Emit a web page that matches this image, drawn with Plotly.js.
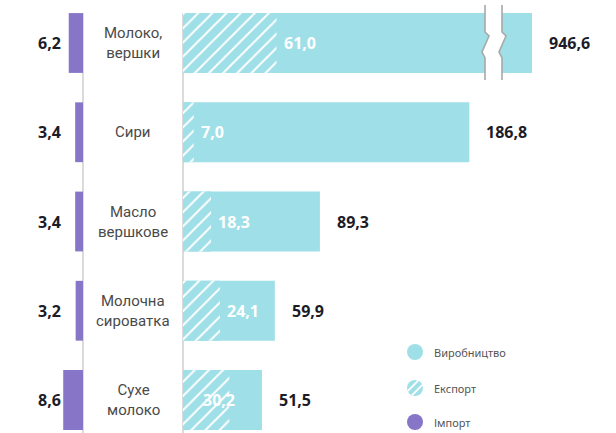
<!DOCTYPE html>
<html>
<head>
<meta charset="utf-8">
<script src="https://cdn.plot.ly/plotly-3.0.1.min.js"></script>
<style>html,body{margin:0;padding:0;background:#fff}#chart{width:616px;height:433px}</style>
</head>
<body>
<div id="chart"></div>
<script>
// ---- data ----
const categories = ['Молоко,<br>вершки', 'Сири', 'Масло<br>вершкове', 'Молочна<br>сироватка', 'Сухе<br>молоко'];
const production = [946.6, 186.8, 89.3, 59.9, 51.5];
const exportVals = [61.0, 7.0, 18.3, 24.1, 30.2];
const importVals = [6.2, 3.4, 3.4, 3.2, 8.6];
const legendLabels = ['Виробництво', 'Експорт', 'Імпорт'];

// ---- styling / geometry ----
const W = 616, H = 433;
const CYAN = '#9fdfe7', PURPLE = '#8775c7', GRAY = '#cfcfcf';
const pxPerUnit = 1.533;
const mainLeft = 183, mainRight = 490, brkLeft = 498;
const mainMax = (mainRight - mainLeft) / pxPerUnit;
const brkStart = production[0] - (532 - brkLeft) / pxPerUnit;
const brkEnd = brkStart + (W - brkLeft) / pxPerUnit;
const impPx = 2.3, impLeft = 40, impRight = 83;
const fmt = v => v.toFixed(1).replace('.', ',');
const px = x => x / W, py = y => 1 - y / H;
const BARW = 0.67;

const traces = [
  {type: 'bar', orientation: 'h', y: categories, x: production, xaxis: 'x', yaxis: 'y',
   width: BARW, marker: {color: CYAN, line: {width: 0}}, hoverinfo: 'skip'},
  {type: 'bar', orientation: 'h', y: categories, x: exportVals, xaxis: 'x', yaxis: 'y',
   width: BARW, marker: {color: CYAN, line: {width: 0},
     pattern: {shape: '/', bgcolor: CYAN, fgcolor: '#ffffff', size: 10, solidity: 0.2, fillmode: 'replace'}},
   hoverinfo: 'skip'},
  {type: 'bar', orientation: 'h', y: categories, x: production, xaxis: 'x2', yaxis: 'y',
   width: BARW, marker: {color: CYAN, line: {width: 0}}, hoverinfo: 'skip'},
  {type: 'bar', orientation: 'h', y: categories, x: importVals, xaxis: 'x3', yaxis: 'y',
   width: BARW, marker: {color: PURPLE, line: {width: 0}}, hoverinfo: 'skip'}
];

const annotations = [];
const numFont = {family: 'Open Sans, sans-serif', size: 16, color: '#1c1c28', weight: 700};
categories.forEach((c, i) => {
  // category label
  annotations.push({xref: 'paper', yref: 'y', x: px(133), y: c, text: c, showarrow: false,
    xanchor: 'center', yanchor: 'middle', align: 'center',
    font: {family: 'Roboto, sans-serif', size: 15, color: '#4a4a4a'}});
  // import label
  annotations.push({xref: 'paper', yref: 'y', x: px(63), y: c, text: fmt(importVals[i]), showarrow: false,
    xanchor: 'right', yanchor: 'middle', font: numFont});
  // production total
  const onBrk = production[i] > mainMax;
  annotations.push({xref: onBrk ? 'x2' : 'x', yref: 'y', x: production[i], y: c, text: fmt(production[i]),
    showarrow: false, xanchor: 'left', yanchor: 'middle', xshift: 15, font: numFont});
  // export label (inside bar, white)
  const room = (Math.min(production[i], mainMax) - exportVals[i]) * pxPerUnit;
  const fits = room > 44;
  annotations.push({xref: 'x', yref: 'y', x: exportVals[i], y: c, text: fmt(exportVals[i]), showarrow: false,
    xanchor: fits ? 'left' : 'right', xshift: fits ? 5 : 8, yanchor: 'middle',
    font: {family: 'Open Sans, sans-serif', size: 16, color: '#ffffff', weight: 700}});
});

// legend labels
const legY = [352, 388, 422];
legendLabels.forEach((t, i) => {
  annotations.push({xref: 'paper', yref: 'paper', x: px(432), y: py(legY[i]), text: t, showarrow: false,
    xanchor: 'left', yanchor: 'middle', font: {family: 'Noto Sans, sans-serif', size: 11, color: '#555'}});
});

const shapes = [];
// vertical guide lines
[83, 183].forEach(x => shapes.push({type: 'line', xref: 'paper', yref: 'paper', x0: px(x), x1: px(x),
  y0: py(13), y1: py(H), line: {color: GRAY, width: 1.5}, layer: 'below'}));

// axis break (zigzag)
const zig = (x0) => [[x0, 5], [x0, 32], [x0 + 4, 36], [x0 - 3, 52], [x0, 58], [x0, 80]];
const L = zig(485), R = zig(502);
const toPath = pts => pts.map((p, k) => (k ? 'L' : 'M') + px(p[0]).toFixed(5) + ',' + py(p[1]).toFixed(5)).join(' ');
shapes.push({type: 'path', xref: 'paper', yref: 'paper',
  path: toPath(L.concat(R.slice().reverse())) + ' Z', fillcolor: '#ffffff', line: {width: 0}, layer: 'above'});
shapes.push({type: 'path', xref: 'paper', yref: 'paper', path: toPath(L), line: {color: '#a8a8a8', width: 1.6}, layer: 'above'});
shapes.push({type: 'path', xref: 'paper', yref: 'paper', path: toPath(R), line: {color: '#a8a8a8', width: 1.6}, layer: 'above'});

// legend symbols
const cx = 415, r = 8;
const circ = (cy, color) => ({type: 'circle', xref: 'paper', yref: 'paper',
  x0: px(cx - r), x1: px(cx + r), y0: py(cy + r), y1: py(cy - r), fillcolor: color, line: {width: 0}});
shapes.push(circ(legY[0], CYAN));
shapes.push(circ(legY[1], CYAN));
shapes.push(circ(legY[2], PURPLE));
[-3, 3].forEach(d => {
  const s = Math.SQRT1_2, h = Math.sqrt(r * r - d * d);
  const mx = cx + d * s, my = legY[1] + d * s;
  shapes.push({type: 'line', xref: 'paper', yref: 'paper',
    x0: px(mx - h * s), y0: py(my + h * s), x1: px(mx + h * s), y1: py(my - h * s),
    line: {color: '#ffffff', width: 2}});
});

const hidden = {visible: false, showgrid: false, zeroline: false, fixedrange: true};
const layout = {
  width: W, height: H, margin: {l: 0, r: 0, t: 0, b: 0},
  paper_bgcolor: '#ffffff', plot_bgcolor: 'rgba(0,0,0,0)',
  showlegend: false, barmode: 'overlay',
  xaxis: Object.assign({domain: [px(mainLeft), px(mainRight)], range: [0, mainMax], anchor: 'y'}, hidden),
  xaxis2: Object.assign({domain: [px(brkLeft), 1], range: [brkStart, brkEnd], anchor: 'y'}, hidden),
  xaxis3: Object.assign({domain: [px(impLeft), px(impRight)], range: [(impRight - impLeft) / impPx, 0], anchor: 'y'}, hidden),
  yaxis: Object.assign({type: 'category', categoryarray: categories, categoryorder: 'array',
    range: [4 + 33 / 89.25, -43 / 89.25], domain: [0, 1]}, hidden),
  annotations: annotations, shapes: shapes
};

Plotly.newPlot('chart', traces, layout, {staticPlot: true, displayModeBar: false});
</script>
</body>
</html>
